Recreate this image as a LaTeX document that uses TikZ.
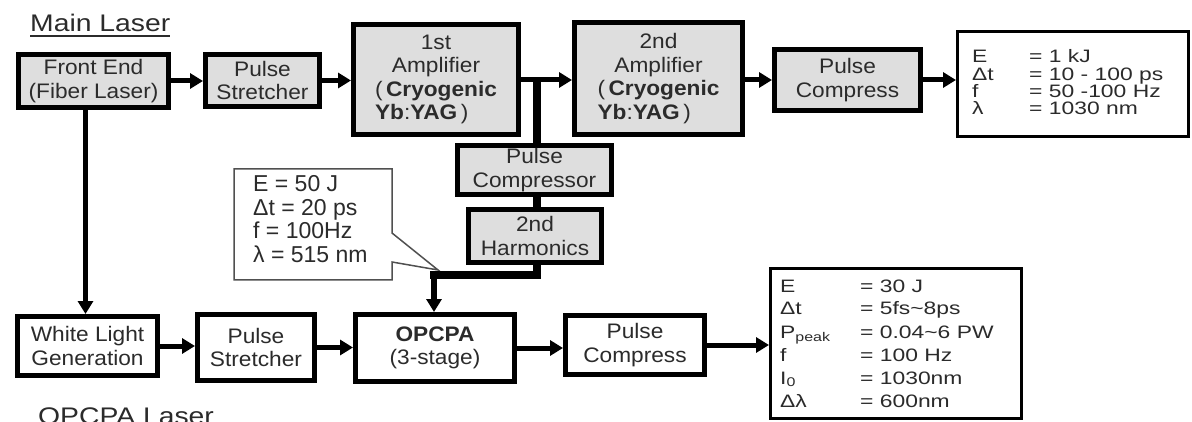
\documentclass[tikz,border=0pt]{standalone}
\usepackage{fontspec}
\setmainfont{Liberation Sans}
\newfontfamily\boxfont{Liberation Sans}[FakeStretch=1.08]
\newfontfamily\titlefont{Liberation Sans}[FakeStretch=1.18]
\newfontfamily\specfont{Liberation Sans}[FakeStretch=1.27]
\usetikzlibrary{arrows.meta}
\definecolor{boxgray}{HTML}{DEDEDE}
\definecolor{txt}{HTML}{2B2B2B}
\definecolor{callgray}{HTML}{505050}
\begin{document}
\begin{tikzpicture}[x=1pt,y=-1pt,
  box/.style={draw=black, line width=5pt, fill=boxgray, inner sep=0pt, align=center,
    text=txt, font=\boxfont\fontsize{21}{23.5}\selectfont},
  wbox/.style={box, fill=white},
  spec/.style={draw=black, line width=3pt, fill=white, inner sep=0pt},
  arr/.style={line width=5pt, -{Triangle[length=13pt,width=15pt]}},
  lbl/.style={anchor=base west, inner sep=0pt, text=txt},
  speclbl/.style={lbl, font=\specfont\fontsize{18}{18}\selectfont},
  calltext/.style={lbl, font=\fontsize{23}{23}\selectfont},
  titletext/.style={lbl, font=\titlefont\fontsize{24}{24}\selectfont}
]
\useasboundingbox (0,0) rectangle (1192,422);
\clip (0,0) rectangle (1192,422);

% titles
\node[titletext] (ml) at (30,32) {Main Laser};
\draw[txt, line width=1.2pt] ([yshift=-4pt]ml.base west) -- ([yshift=-4pt]ml.base east);
\node[titletext] (ol) at (38,424) {OPCPA Laser};

% main laser chain
\node[box, minimum width=150pt, minimum height=53pt] (fe) at (93.5,81) {Front End\\(Fiber Laser)};
\node[box, minimum width=114pt, minimum height=52pt] (ps1) at (262.5,80.5) {Pulse\\Stretcher};
\node[box, minimum width=165pt, minimum height=110pt] (amp1) at (436,79.5)
  {1st\\Amplifier\\(\,\textbf{Cryogenic}\\\rlap{\textbf{Yb}:\textbf{YAG}\,)}\phantom{(\,\textbf{Cryogenic}}};
\node[box, minimum width=168pt, minimum height=112pt] (amp2) at (658.5,78.5)
  {2nd\\Amplifier\\(\,\textbf{Cryogenic}\\\rlap{\textbf{Yb}:\textbf{YAG}\,)}\phantom{(\,\textbf{Cryogenic}}};
\node[box, minimum width=146pt, minimum height=61pt] (pc1) at (847.5,80) {Pulse\\Compress};
\node[spec, minimum width=231pt, minimum height=105pt] (out1) at (1073,84) {};

\node[box, minimum width=154pt, minimum height=49pt] (pcm) at (534.5,170) {Pulse\\Compressor};
\node[box, minimum width=133pt, minimum height=53pt] (har) at (535,236) {2nd\\Harmonics};

% OPCPA chain
\node[wbox, minimum width=140pt, minimum height=59pt] (wl) at (87.5,346) {White Light\\Generation};
\node[wbox, minimum width=117pt, minimum height=66pt] (ps2) at (256,347.5) {Pulse\\Stretcher};
\node[wbox, minimum width=159pt, minimum height=67pt] (op) at (435,348) {\textbf{OPCPA}\\(3-stage)};
\node[wbox, minimum width=139pt, minimum height=59pt] (pc2) at (635,345) {Pulse\\Compress};
\node[spec, minimum width=251pt, minimum height=150pt] (out2) at (896,343.5) {};

% connectors top
\coordinate (j) at (537,80);
\draw[arr] (fe.east) -- (fe.east -| ps1.west);
\draw[arr] (ps1.east) -- (ps1.east -| amp1.west);
\draw[arr] (amp1.east |- j) -- (j -| amp2.west);
\draw[line width=8pt] (j) -- (j |- pcm.north);
\draw[line width=8pt] (pcm.south -| j) -- (har.north -| j);
\draw[arr] (amp2.east |- j) -- (j -| pc1.west);
\draw[arr] (pc1.east) -- (pc1.east -| out1.west);

% connectors bottom
\draw[arr, line width=4.5pt] ([xshift=-8pt]fe.south) -- ([xshift=-8pt]fe.south |- wl.north);
\draw[arr] (wl.east) -- (wl.east -| ps2.west);
\draw[arr] (ps2.east) -- (ps2.east -| op.west);
\draw[arr] (op.east) -- (op.east -| pc2.west);
\draw[arr] (pc2.east) -- (pc2.east -| out2.west);

% callout
\coordinate (hb) at (537,275);
\coordinate (ha) at (434,275);
\coordinate (hl) at (430,275);
\coordinate (tip) at (438,270);
\draw[callgray, line width=1.5pt, fill=white, line join=miter]
  (234,169) -- (392,169) -- (392,233) -- (tip) -- (392,262) -- (392,280) -- (234,280) -- cycle;
\draw[line width=8pt] (har.south -| hb) -- (hb) -- (hl);
\draw[arr, line width=6pt] (ha) -- (ha |- op.north);

\node[calltext] (c1) at (253,192) {E = 50 J};
\node[calltext] (c2) at (253,215.3) {Δt = 20 ps};
\node[calltext] (c3) at (253,238.6) {f = 100Hz};
\node[calltext] (c4) at (253,262) {λ = 515 nm};

% top spec box
\node[speclbl] (ta1) at (972,63) {E};
\node[speclbl] (tb1) at (1029,63) {= 1 kJ};
\node[speclbl] (ta2) at (972,80.3) {Δt};
\node[speclbl] (tb2) at (1029,80.3) {= 10 - 100 ps};
\node[speclbl] (ta3) at (972,97.6) {f};
\node[speclbl] (tb3) at (1029,97.6) {= 50 -100 Hz};
\node[speclbl] (ta4) at (972,115) {λ};
\node[speclbl] (tb4) at (1029,115) {= 1030 nm};

% bottom spec box
\node[speclbl] (ba1) at (780,292) {E};
\node[speclbl] (bb1) at (860,292) {= 30 J};
\node[speclbl] (ba2) at (780,315) {Δt};
\node[speclbl] (bb2) at (860,315) {= 5fs\textasciitilde 8ps};
\node[speclbl] (ba3) at (780,338) {P\textsubscript{peak}};
\node[speclbl] (bb3) at (860,338) {= 0.04\textasciitilde 6 PW};
\node[speclbl] (ba4) at (780,361) {f};
\node[speclbl] (bb4) at (860,361) {= 100 Hz};
\node[speclbl] (ba5) at (780,384) {I\textsubscript{0}};
\node[speclbl] (bb5) at (860,384) {= 1030nm};
\node[speclbl] (ba6) at (780,407) {Δλ};
\node[speclbl] (bb6) at (860,407) {= 600nm};
\end{tikzpicture}
\end{document}
